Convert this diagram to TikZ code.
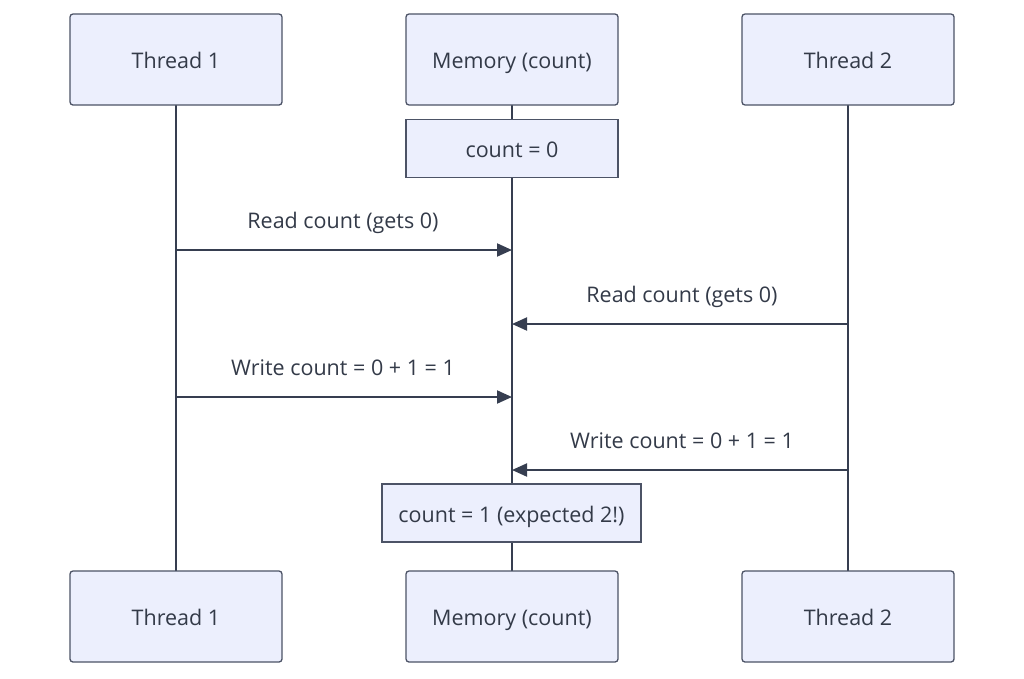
\documentclass[tikz,border=0pt]{standalone}
\usepackage{fontspec}
\setmainfont{Open Sans}
\usepackage{tikz}
\usetikzlibrary{arrows.meta}
\definecolor{boxfill}{HTML}{ECEFFD}
\definecolor{boxline}{HTML}{4C5366}
\definecolor{lifeline}{HTML}{363E50}
\definecolor{txt}{HTML}{333A48}
\tikzset{
  actor/.style={draw=boxline,fill=boxfill,line width=1.3pt,rounded corners=3pt,
    minimum width=212pt,minimum height=91pt,text=txt,font=\fontsize{21.5}{26}\selectfont,
    text height=22pt,text depth=4pt},
  notebox/.style={draw=boxline,fill=boxfill,line width=1.3pt,
    minimum height=58pt,text=txt,font=\fontsize{21.5}{26}\selectfont,
    text height=22pt,text depth=4pt},
  msg/.style={draw=lifeline,line width=2pt,-{Triangle[length=15pt,width=13pt]}},
  lbl/.style={text=txt,font=\fontsize{21.5}{26}\selectfont,text height=22pt,text depth=4pt}
}

\begin{document}
\begin{tikzpicture}[x=1pt,y=-1pt]
  \useasboundingbox (0,0) rectangle (1024,678);
  % lifelines
  \foreach \x in {176,512,848} \draw[lifeline,line width=2.8pt] (\x,105) -- (\x,571);
  % actors top
  \node[actor] (t1top) at (176,59.5) {Thread 1};
  \node[actor] (memtop) at (512,59.5) {Memory (count)};
  \node[actor] (t2top) at (848,59.5) {Thread 2};
  % actors bottom
  \node[actor] (t1bot) at (176,616.5) {Thread 1};
  \node[actor] (membot) at (512,616.5) {Memory (count)};
  \node[actor] (t2bot) at (848,616.5) {Thread 2};
  % first note
  \node[notebox,minimum width=212pt] (note1) at (512,148.5) {count = 0};
  % message points
  \coordinate (a1) at (176,250); \coordinate (b1) at (512,250);
  \coordinate (a2) at (848,324); \coordinate (b2) at (512,324);
  \coordinate (a3) at (176,397); \coordinate (b3) at (512,397);
  \coordinate (a4) at (848,470); \coordinate (b4) at (512,470);
  \draw[msg] (a1) -- (b1);
  \node[lbl] (m1) at (343,219) {Read count (gets 0)};
  \draw[msg] (a2) -- (b2);
  \node[lbl] (m2) at (682,293) {Read count (gets 0)};
  \draw[msg] (a3) -- (b3);
  \node[lbl] (m3) at (343,366) {Write count = 0 + 1 = 1};
  \draw[msg] (a4) -- (b4);
  \node[lbl] (m4) at (682,439) {Write count = 0 + 1 = 1};
  % second note
  \node[notebox,minimum width=259pt] (note2) at (511.5,513) {count = 1 (expected 2!)};
\end{tikzpicture}
\end{document}
